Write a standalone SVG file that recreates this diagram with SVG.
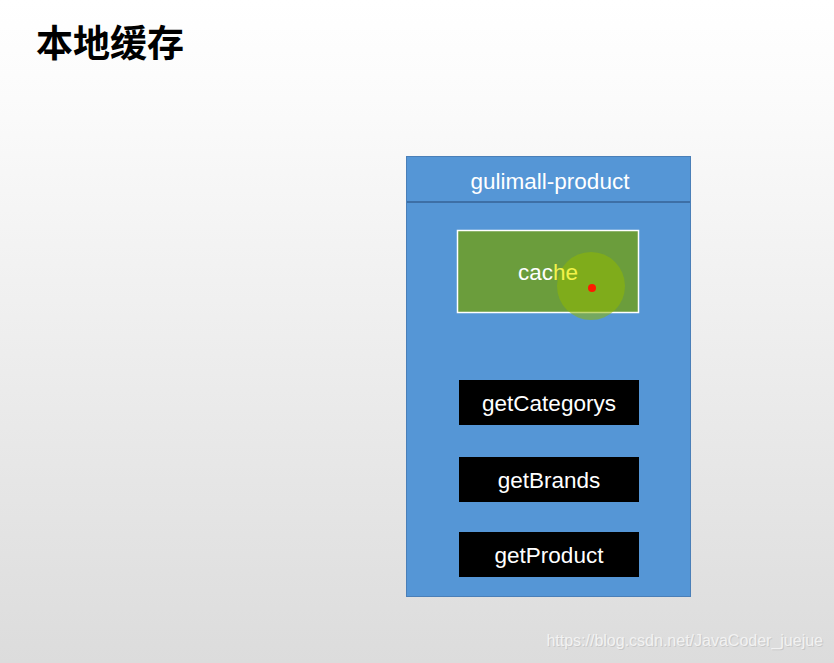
<svg xmlns="http://www.w3.org/2000/svg" width="834" height="663" viewBox="0 0 834 663">
<defs>
<linearGradient id="bg" x1="0" y1="0" x2="0" y2="1">
<stop offset="0" stop-color="#ffffff"/>
<stop offset="0.15" stop-color="#fbfbfb"/>
<stop offset="1" stop-color="#dcdcdc"/>
</linearGradient>
<style>
.t{font-family:"Liberation Sans",Arial,sans-serif;font-size:22.5px;fill:#ffffff;text-anchor:middle}
.fn{fill:#000000}
.wm{font-family:"Liberation Sans",Arial,sans-serif;font-size:16px;text-anchor:end}
</style>
</defs>
<rect width="834" height="663" fill="url(#bg)"/>
<text x="36" y="57" font-family="'Noto Sans CJK SC',sans-serif" font-weight="bold" font-size="37" fill="#000">本地缓存</text>
<g id="gulimall-product">
<rect x="406.5" y="156.5" width="284" height="440" fill="#5596d6" stroke="#4a7fb8" stroke-width="1"/>
<line x1="407" y1="202" x2="690" y2="202" stroke="#3d6fa6" stroke-width="2"/>
<text class="t" x="550" y="189">gulimall-product</text>
</g>
<g id="cache">
<rect x="457.5" y="230.5" width="181" height="82" fill="#6b9d3c" stroke="#ffffff" stroke-width="1.5"/>
<circle cx="591" cy="286" r="34" fill="#8fb800" fill-opacity="0.55"/>
<text x="548" y="280" font-family="'Liberation Sans',Arial,sans-serif" font-size="22.5" text-anchor="middle" fill="#ffffff">cac<tspan fill="#f2f24a">he</tspan></text>
<circle cx="592" cy="288" r="4" fill="#ff1a00"/>
</g>
<g id="getCategorys">
<rect x="459" y="380" width="180" height="45" class="fn"/>
<text class="t" x="549" y="411">getCategorys</text>
</g>
<g id="getBrands">
<rect x="459" y="457" width="180" height="45" class="fn"/>
<text class="t" x="549" y="488">getBrands</text>
</g>
<g id="getProduct">
<rect x="459" y="532" width="180" height="45" class="fn"/>
<text class="t" x="549" y="563">getProduct</text>
</g>
<g id="connectors"/>
<text class="wm" x="824" y="647" fill="#c8c8c8">https://blog.csdn.net/JavaCoder_juejue</text>
<text class="wm" x="823" y="646" fill="#f2f2f2">https://blog.csdn.net/JavaCoder_juejue</text>
</svg>
